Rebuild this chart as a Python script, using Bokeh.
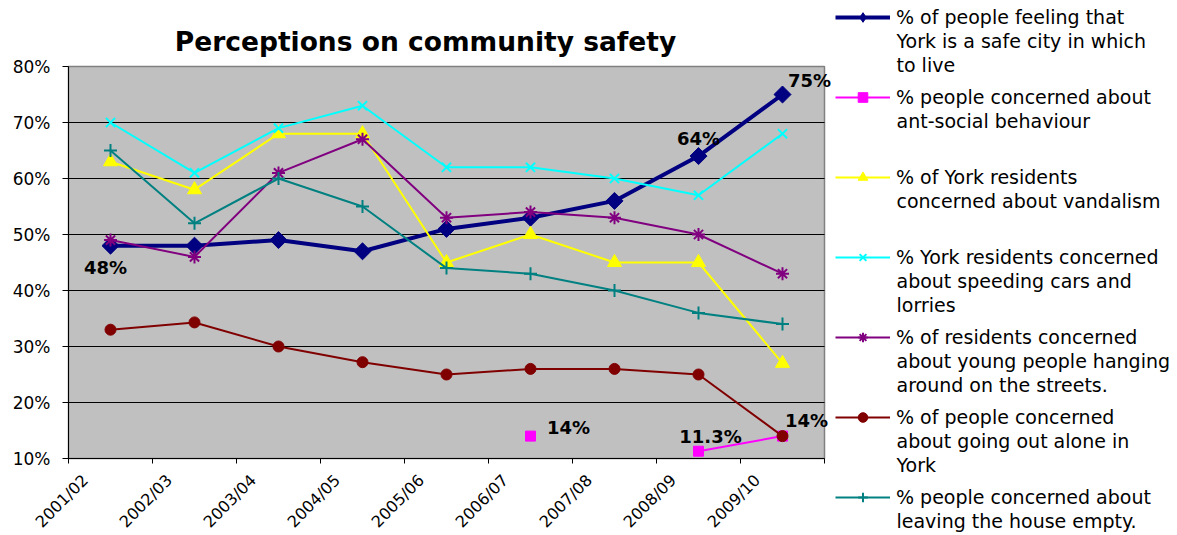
import math
from bokeh.plotting import figure
from bokeh.models import (Range1d, FixedTicker, ColumnDataSource, LabelSet,
                          Label, Legend, LegendItem)
from bokeh.core.properties import value
from bokeh.embed import file_html
from bokeh.resources import INLINE

years = ["2001/02", "2002/03", "2003/04", "2004/05", "2005/06",
         "2006/07", "2007/08", "2008/09", "2009/10"]
nan = float("nan")
safe_city = [48, 48, 49, 47, 51, 53, 56, 64, 75]
anti_social = [nan, nan, nan, nan, nan, 14, nan, 11.3, 14]
vandalism = [63, 58, 68, 68, 45, 50, 45, 45, 27]
speeding = [70, 61, 69, 73, 62, 62, 60, 57, 68]
young_people = [49, 46, 61, 67, 53, 54, 53, 50, 43]
going_out = [33, 34.3, 30, 27.2, 25, 26, 26, 25, 14]
house_empty = [65, 52, 60, 55, 44, 43, 40, 36, 34]
y_ticks = [10, 20, 30, 40, 50, 60, 70, 80]
y_tick_labels = ["10%", "20%", "30%", "40%", "50%", "60%", "70%", "80%"]
title_text = "Perceptions on community safety"

legend_texts = [
    ["% of people feeling that", "York is a safe city in which", "to live"],
    ["% people concerned about", "ant-social behaviour"],
    ["% of York residents", "concerned about vandalism"],
    ["% York residents concerned", "about speeding cars and", "lorries"],
    ["% of residents concerned", "about young people hanging", "around on the streets."],
    ["% of people concerned", "about going out alone in", "York"],
    ["% people concerned about", "leaving the house empty."],
]

# data labels
lab_year = ["2001/02", "2008/09", "2009/10", "2006/07", "2008/09", "2009/10"]
lab_val = [48, 64, 75, 14, 11.3, 14]
lab_text = ["48%", "64%", "75%", "14%", "11.3%", "14%"]

FONT = "DejaVu Sans"
W, H = 1177, 535
PL, PR, PT, PB = 68, 824, 66, 458   # gray plot area edges in pixels
NX = len(years)
Y0, Y1 = 10, 80
px_per_x = (PR - PL) / NX
px_per_y = (PB - PT) / (Y1 - Y0)
xs = [i + 0.5 for i in range(NX)]


def px_to_x(px):
    return (px - PL) / px_per_x


def px_to_y(py):
    return Y0 + (PB - py) / px_per_y


# the frame spans the whole canvas, so the legend, the axis labels and the
# labels beside the plot area are not clipped; axes sit at fixed locations
p = figure(width=W, height=H, output_backend="svg", toolbar_location=None,
           title=None,
           x_range=Range1d(px_to_x(0), px_to_x(W)),
           y_range=Range1d(px_to_y(H), px_to_y(0)),
           min_border=0)
p.background_fill_color = "white"
p.border_fill_color = "white"
p.outline_line_color = None

# plot area background and grid lines
p.quad(left=[0], right=[NX], bottom=[Y0], top=[Y1],
       fill_color="#C0C0C0", line_color="#808080", line_width=1.5)
p.segment(x0=[0] * (len(y_ticks) - 2), x1=[NX] * (len(y_ticks) - 2),
          y0=y_ticks[1:-1], y1=y_ticks[1:-1], line_color="black", line_width=1)
p.grid.visible = False

# axes
lab_shift = 0.3
p.xaxis.fixed_location = Y0
p.xaxis.bounds = (0, NX)
p.xaxis.ticker = FixedTicker(ticks=[x - lab_shift for x in xs],
                             minor_ticks=list(range(NX + 1)))
p.xaxis.major_label_overrides = {x - lab_shift: y for x, y in zip(xs, years)}
p.xaxis.major_label_orientation = math.pi / 4
p.xaxis.major_tick_out = 0
p.xaxis.major_tick_in = 0
p.xaxis.minor_tick_out = 5
p.xaxis.minor_tick_in = 0
p.xaxis.minor_tick_line_color = "black"
p.xaxis.axis_line_color = "black"
p.xaxis.major_label_text_font = FONT
p.xaxis.major_label_text_font_size = "16px"
p.xaxis.major_label_text_color = "black"
p.xaxis.major_label_standoff = 14

p.yaxis.fixed_location = 0
p.yaxis.bounds = (Y0, Y1)
p.yaxis.ticker = FixedTicker(ticks=y_ticks, minor_ticks=[])
p.yaxis.major_label_overrides = {t: l for t, l in zip(y_ticks, y_tick_labels)}
p.yaxis.major_tick_out = 6
p.yaxis.major_tick_in = 0
p.yaxis.axis_line_color = "black"
p.yaxis.major_label_text_font = FONT
p.yaxis.major_label_text_font_size = "17px"
p.yaxis.major_label_text_color = "black"
p.yaxis.major_label_standoff = 12

# title
p.add_layout(Label(x=px_to_x(425), y=px_to_y(41), text=title_text,
                   text_align="center", text_baseline="alphabetic",
                   text_font=FONT, text_font_size="26.5px",
                   text_font_style="bold", text_color="black"))

series = [
    (safe_city, "#000080", 4, dict(marker="square", size=12, angle=math.pi / 4)),
    (anti_social, "#FF00FF", 2, dict(marker="square", size=10)),
    (vandalism, "#FFFF00", 2, dict(marker="triangle", size=14)),
    (speeding, "#00FFFF", 2, dict(marker="x", size=13)),
    (young_people, "#800080", 2, dict(marker="asterisk", size=13)),
    (going_out, "#800000", 2, dict(marker="circle", size=11)),
    (house_empty, "#008080", 2, dict(marker="cross", size=13)),
]

legend_renderers = []
for k, (vals, color, lw, mk) in enumerate(series):
    lr = p.line(xs, vals, line_color=color, line_width=lw)
    stroke = 2 if mk["marker"] in ("x", "asterisk", "cross") else 1
    sr = p.scatter(xs, vals, line_color=color, fill_color=color,
                   line_width=stroke, **mk)
    if k == 0:
        # legend swatch uses a diamond (the plotted marker is a rotated square)
        sr = p.scatter([nan], [nan], marker="diamond", line_color=color,
                       fill_color=color)
    legend_renderers.append([lr, sr])

lab_src = ColumnDataSource(dict(
    x=[years.index(y) + 0.5 for y in lab_year], y=lab_val, text=lab_text,
    xo=[-5, 0, 27, 38, 12, 24], yo=[-22, 18, 14, 9, 15, 16]))
p.add_layout(LabelSet(x="x", y="y", text="text", source=lab_src,
                      x_offset="xo", y_offset="yo", text_align="center",
                      text_baseline="middle", text_font=value(FONT),
                      text_font_size=value("18px"), text_font_style="bold",
                      text_color="black"))

# legend entries: swatch + first line as a Legend, further lines as labels
ITEM_H = 24
LEG_LEFT, GLYPH_W, TEXT_LEFT = 835, 55, 896
ENTRY_TOP, ENTRY_STEP, LINE_STEP = 17, 80, 23.5
tx, ty, tt = [], [], []
for i, (rs, lines) in enumerate(zip(legend_renderers, legend_texts)):
    yc = ENTRY_TOP + ENTRY_STEP * i
    leg = Legend(items=[LegendItem(label=lines[0], renderers=rs)],
                 location=(LEG_LEFT, H - yc - ITEM_H / 2),
                 glyph_width=GLYPH_W, glyph_height=ITEM_H, label_height=ITEM_H,
                 label_standoff=TEXT_LEFT - LEG_LEFT - GLYPH_W, padding=0,
                 margin=0, spacing=0, border_line_color=None,
                 background_fill_alpha=0, label_text_font=FONT,
                 label_text_font_size="19px", label_text_color="black",
                 label_text_baseline="middle")
    p.add_layout(leg, "center")
    for j, t in enumerate(lines[1:], start=1):
        tx.append(px_to_x(TEXT_LEFT))
        ty.append(px_to_y(yc + LINE_STEP * j))
        tt.append(t)

p.add_layout(LabelSet(x="x", y="y", text="text",
                      source=ColumnDataSource(dict(x=tx, y=ty, text=tt)),
                      text_align="left", text_baseline="middle",
                      text_font=value(FONT), text_font_size=value("19px"),
                      text_color="black"))

open("out.html", "w").write(file_html(p, INLINE))
